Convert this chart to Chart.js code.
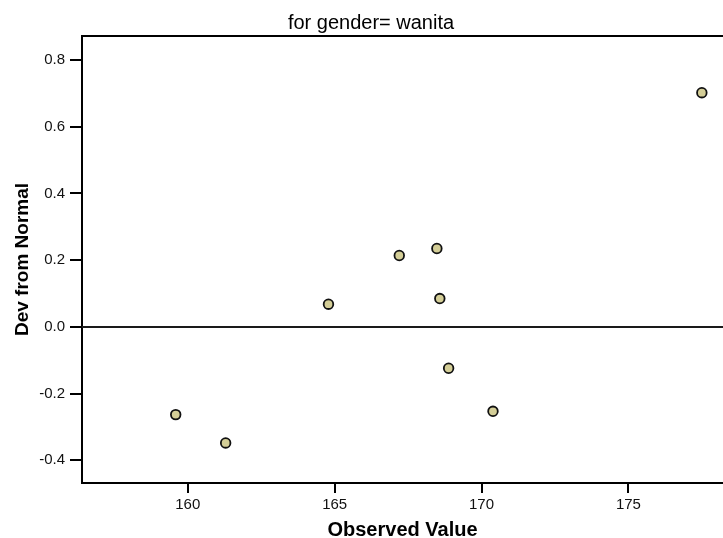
<!DOCTYPE html>
<html>
<head>
<meta charset="utf-8">
<script src="https://cdn.jsdelivr.net/npm/chart.js@4.4.1/dist/chart.umd.min.js"></script>
<style>
  html, body { margin: 0; padding: 0; background: #fff; overflow: hidden; }
  canvas { display: block; }
</style>
</head>
<body>
<canvas id="qq" width="723" height="538"></canvas>
<script>
// observed value vs deviation from normal (detrended Q-Q, wanita)
const observed = [159.59, 161.29, 164.79, 167.20, 168.48, 168.58, 168.88, 170.39, 177.50];
const devFromNormal = [-0.263, -0.348, 0.068, 0.214, 0.235, 0.085, -0.124, -0.253, 0.702];
const xTicks = [160, 165, 170, 175];
const yTicks = [-0.4, -0.2, 0.0, 0.2, 0.4, 0.6, 0.8];
const titleText = 'for gender= wanita';

Chart.defaults.font.family = "Arial, 'Liberation Sans', sans-serif";
Chart.defaults.color = '#000';

const points = observed.map((x, i) => ({ x: x, y: devFromNormal[i] }));

// zero reference line, top frame line and the title (sits off-centre in the original)
const framePlugin = {
    id: 'frame',
    beforeDatasetsDraw(chart) {
        const { ctx, chartArea, scales } = chart;
        const y0 = scales.y.getPixelForValue(0);
        ctx.save();
        ctx.strokeStyle = '#1a1a1a';
        ctx.lineWidth = 2;
        ctx.beginPath();
        ctx.moveTo(chartArea.left, y0);
        ctx.lineTo(chartArea.right, y0);
        ctx.stroke();
        ctx.strokeStyle = '#000';
        ctx.beginPath();
        ctx.moveTo(chartArea.left - 1, chartArea.top);
        ctx.lineTo(chartArea.right, chartArea.top);
        ctx.stroke();

        ctx.fillStyle = '#000';
        ctx.font = "20px Arial, 'Liberation Sans', sans-serif";
        ctx.textAlign = 'center';
        ctx.textBaseline = 'middle';
        ctx.fillText(titleText, 371, 23);
        ctx.restore();
    }
};

new Chart(document.getElementById('qq').getContext('2d'), {
    type: 'scatter',
    data: {
        datasets: [{
            data: points,
            pointRadius: 4.8,
            pointHoverRadius: 4.8,
            pointBorderWidth: 1.8,
            pointBorderColor: '#111',
            pointBackgroundColor: '#d4ce97'
        }]
    },
    options: {
        responsive: false,
        animation: false,
        layout: { autoPadding: false, padding: { top: 36, right: 0, left: 0, bottom: 0 } },
        plugins: {
            legend: { display: false },
            tooltip: { enabled: false },
            title: { display: false }
        },
        scales: {
            x: {
                type: 'linear',
                min: 156.4,
                max: 178.22,
                afterBuildTicks: (scale) => { scale.ticks = xTicks.map(v => ({ value: v })); },
                afterFit: (scale) => {
                    scale.height = 55;
                    scale.paddingLeft = 0;
                    scale.paddingRight = 0;
                },
                grid: { drawOnChartArea: false, drawTicks: true, tickLength: 10, color: '#000', lineWidth: 2 },
                border: { display: true, color: '#000', width: 2 },
                ticks: { font: { size: 15 }, color: '#111', padding: 3, maxRotation: 0 },
                title: {
                    display: true,
                    text: 'Observed Value',
                    font: { size: 20, weight: 'bold', lineHeight: 0.8 },
                    padding: { top: 0, bottom: 0 }
                }
            },
            y: {
                type: 'linear',
                min: -0.468,
                max: 0.872,
                afterBuildTicks: (scale) => { scale.ticks = yTicks.map(v => ({ value: v })); },
                afterFit: (scale) => {
                    scale.width = 82;
                    scale.paddingTop = 0;
                    scale.paddingBottom = 0;
                },
                grid: { drawOnChartArea: false, drawTicks: true, tickLength: 12, color: '#000', lineWidth: 2 },
                border: { display: true, color: '#000', width: 2 },
                ticks: {
                    font: { size: 15 },
                    color: '#111',
                    padding: 5,
                    callback: (v) => Number(v).toFixed(1)
                },
                title: {
                    display: true,
                    text: 'Dev from Normal',
                    font: { size: 19, weight: 'bold' },
                    padding: { top: 11, bottom: 0 }
                }
            }
        }
    },
    plugins: [framePlugin]
});
</script>
</body>
</html>
